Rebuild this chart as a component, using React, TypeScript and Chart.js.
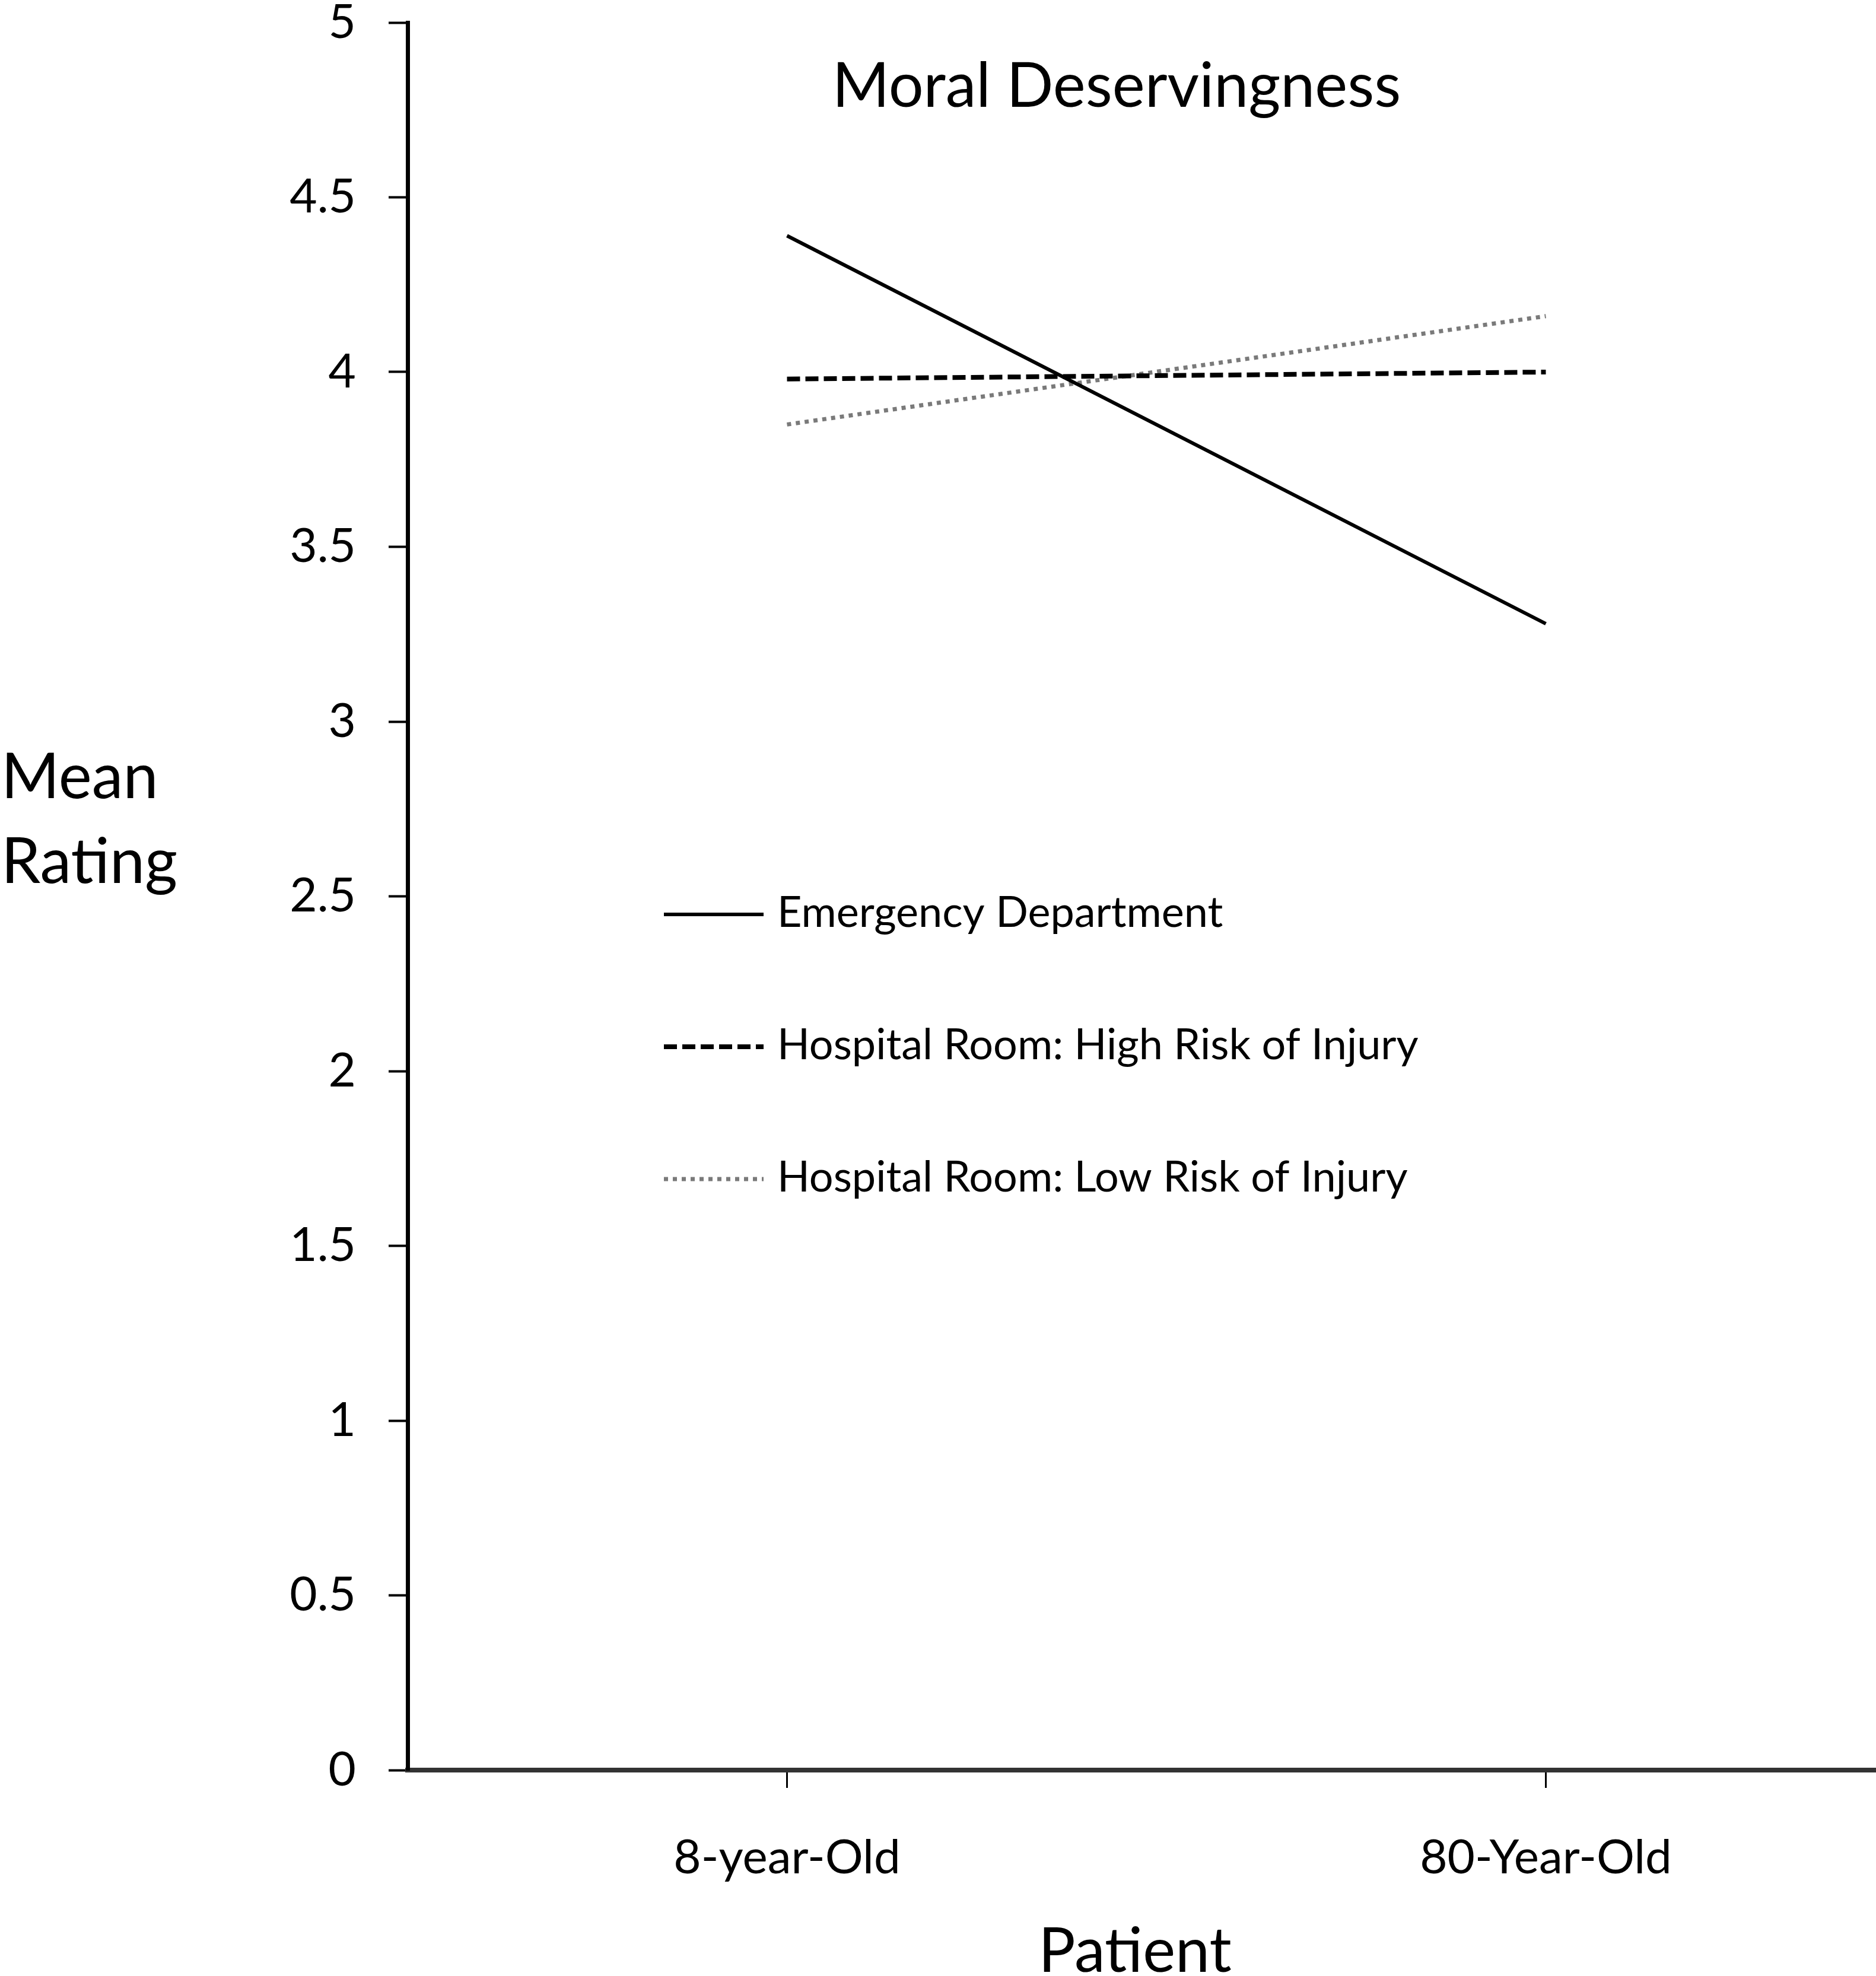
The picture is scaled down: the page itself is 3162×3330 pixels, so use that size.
import { useEffect, useRef } from "react";
import { Chart, registerables } from "chart.js";
Chart.register(...registerables);

const categories = ["8-year-Old", "80-Year-Old"];
const seriesLabels = [
  "Emergency Department",
  "Hospital Room: High Risk of Injury",
  "Hospital Room: Low Risk of Injury",
];
const emergency = [4.39, 3.28];
const highRisk = [3.98, 4.0];
const lowRisk = [3.85, 4.16];
const yTicks = [0, 0.5, 1, 1.5, 2, 2.5, 3, 3.5, 4, 4.5, 5];

const TITLE = "Moral Deservingness";
const Y_TITLE = ["Mean", "Rating"];
const X_TITLE = "Patient";

const W = 3300;
const H = 3330;

// titles and in-plot legend, drawn where the original figure has them
const annotations = {
  id: "annotations",
  afterDraw(chart: Chart) {
    const { ctx } = chart;
    ctx.save();
    ctx.fillStyle = "#000";
    ctx.textBaseline = "alphabetic";

    ctx.font = "104px Lato";
    ctx.textAlign = "center";
    ctx.fillText(TITLE, 1882, 180);

    ctx.font = "104px Lato";
    ctx.fillText(X_TITLE, 1913, 3323);

    ctx.font = "106px Lato";
    ctx.textAlign = "left";
    ctx.fillText(Y_TITLE[0], 2, 1345);
    ctx.fillText(Y_TITLE[1], 2, 1488);

    chart.data.datasets.forEach((ds: any, i: number) => {
      const y = 1541 + i * 223;
      ctx.beginPath();
      ctx.setLineDash(ds.borderDash || []);
      ctx.lineWidth = ds.borderWidth;
      ctx.strokeStyle = ds.borderColor;
      ctx.lineCap = "butt";
      ctx.moveTo(1119, y);
      ctx.lineTo(1287, y);
      ctx.stroke();
      ctx.setLineDash([]);
      ctx.font = "72px Lato";
      ctx.fillText(ds.label, 1310, y + 21);
    });
    ctx.restore();
  },
};

function MoralChart() {
  const canvasRef = useRef<HTMLCanvasElement>(null);

  useEffect(() => {
    if (!canvasRef.current) return;
    const ctx = canvasRef.current.getContext("2d");
    if (!ctx) return;

    const chart = new Chart(ctx, {
      type: "line",
      data: {
        labels: categories,
        datasets: [
          { label: seriesLabels[0], data: emergency, borderColor: "#000", borderWidth: 6, pointRadius: 0, tension: 0 },
          { label: seriesLabels[1], data: highRisk, borderColor: "#000", borderWidth: 8, borderDash: [22, 9], pointRadius: 0, tension: 0 },
          { label: seriesLabels[2], data: lowRisk, borderColor: "#7a7a7a", borderWidth: 7, borderDash: [7, 8], pointRadius: 0, tension: 0 },
        ],
      },
      options: {
        responsive: false,
        animation: false,
        layout: { padding: { top: 38, right: 55, left: 0, bottom: 0 } },
        plugins: { legend: { display: false }, title: { display: false }, tooltip: { enabled: false } },
        scales: {
          x: {
            type: "category",
            offset: true,
            afterFit: (s: any) => { s.height = 347; s.paddingLeft = 0; s.paddingRight = 0; },
            grid: { drawOnChartArea: false, offset: false, tickLength: 30, tickWidth: 3, tickColor: "#000" },
            border: { color: "#333", width: 8 },
            ticks: { color: "#000", font: { family: "Lato", size: 80 }, padding: 70 },
          },
          y: {
            min: 0,
            max: 5,
            afterFit: (s: any) => { s.width = 687; s.paddingTop = 0; s.paddingBottom = 0; },
            afterBuildTicks: (s: any) => { s.ticks = yTicks.map((v) => ({ value: v })); },
            grid: { drawOnChartArea: false, tickLength: 32, tickWidth: 4, tickColor: "#000" },
            border: { color: "#000", width: 7 },
            ticks: { color: "#000", font: { family: "Lato", size: 80 }, padding: 55, callback: (v: any) => String(v) },
          },
        },
      },
      plugins: [annotations],
    });

    return () => chart.destroy();
  }, []);

  return <canvas ref={canvasRef} width={W} height={H} style={{ display: "block", width: W, height: H }} />;
}

export default function App() {
  return (
    <div style={{ position: "absolute", left: 0, top: 0, width: 3162, height: 3330, overflow: "hidden", background: "#fff" }}>
      <MoralChart />
    </div>
  );
}
